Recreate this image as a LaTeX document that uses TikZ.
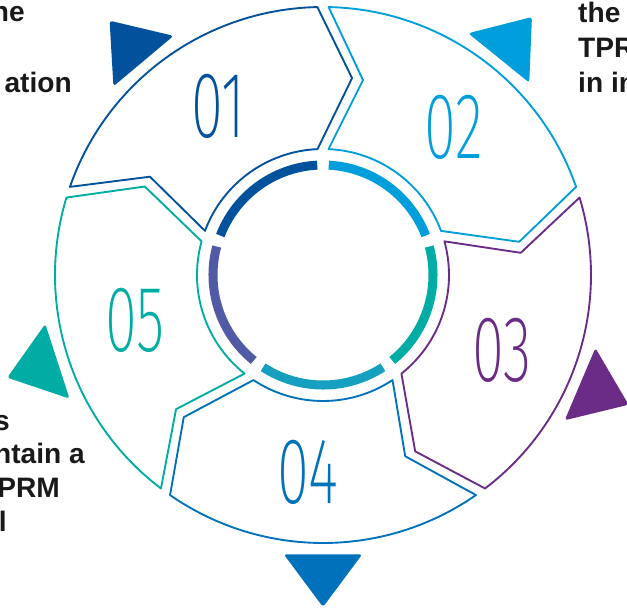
\documentclass[tikz,border=0pt]{standalone}
\usepackage{fontspec}
\setmainfont{Liberation Sans}
\newfontfamily\numfont{Fira Sans ExtraLight}[FakeStretch=0.62]
\definecolor{segA}{RGB}{2,81,156}
\definecolor{segB}{RGB}{0,158,219}
\definecolor{segC}{RGB}{107,44,135}
\definecolor{segD}{RGB}{0,113,187}
\definecolor{segE}{RGB}{0,172,163}
\definecolor{bandD}{RGB}{22,160,192}
\definecolor{bandE}{RGB}{80,90,165}

\begin{document}
\begin{tikzpicture}[
  x=0.03cm, y=0.03cm,
  seg/.style={line width=1.6pt, line join=round},
  band/.style={line width=7.7pt},
  tri/.style={rounded corners=2.5pt},
  num/.style={font=\numfont\fontsize{80}{80}\selectfont, inner sep=0pt},
  txt/.style={font=\bfseries\fontsize{24}{28}\selectfont, inner sep=0pt, text=black!90}
]
  \useasboundingbox (-323,-336) rectangle (304,275);
  \clip (-323,-336) rectangle (304,275);

  \draw[seg, segA] (160.8:268) arc[start angle=160.8, end angle=91.2, radius=268] -- (81.6:199) -- (92.5:126) arc[start angle=92.5, end angle=159.5, radius=126] -- (150.4:199) -- cycle;
  \draw[seg, segB] (88.8:268) arc[start angle=88.8, end angle=19.2, radius=268] -- (9.6:199) -- (20.5:126) arc[start angle=20.5, end angle=87.5, radius=126] -- (78.4:199) -- cycle;
  \draw[seg, segC] (16.8:268) arc[start angle=16.8, end angle=-52.8, radius=268] -- (-62.4:199) -- (-51.5:126) arc[start angle=-51.5, end angle=15.5, radius=126] -- (6.4:199) -- cycle;
  \draw[seg, segD] (-55.2:268) arc[start angle=-55.2, end angle=-124.8, radius=268] -- (-134.4:199) -- (-123.5:126) arc[start angle=-123.5, end angle=-56.5, radius=126] -- (-65.6:199) -- cycle;
  \draw[seg, segE] (-127.2:268) arc[start angle=-127.2, end angle=-196.8, radius=268] -- (-206.4:199) -- (-195.5:126) arc[start angle=-195.5, end angle=-128.5, radius=126] -- (-137.6:199) -- cycle;

  \draw[band, segA] (159:110) arc[start angle=159, end angle=93, radius=110];
  \draw[band, segB] (87:110) arc[start angle=87, end angle=21, radius=110];
  \draw[band, segE] (15:110) arc[start angle=15, end angle=-51, radius=110];
  \draw[band, bandD] (-57:110) arc[start angle=-57, end angle=-123, radius=110];
  \draw[band, bandE] (-129:110) arc[start angle=-129, end angle=-195, radius=110];

  \fill[tri, segA] (138:282) -- (130:332) -- (122:282) -- cycle;
  \fill[tri, segB] (59:282) -- (51:332) -- (43:282) -- cycle;
  \fill[tri, segC] (-15:282) -- (-23:332) -- (-31:282) -- cycle;
  \fill[tri, segD] (-82:282) -- (-90:332) -- (-98:282) -- cycle;
  \fill[tri, segE] (206:282) -- (198:332) -- (190:282) -- cycle;

  \node[num, text=segA] (n01) at (-105,169) {01};
  \node[num, text=segB] (n02) at (131,148) {02};
  \node[num, text=segC] (n03) at (179,-75) {03};
  \node[num, text=segD] (n04) at (-15,-197) {04};
  \node[num, text=segE] (n05) at (-188,-45) {05};

  \node[txt, anchor=base east] (tl1) at (-298,253) {he};
  \node[txt, anchor=base east] (tl2) at (-251,183) {ation};
  \node[txt, anchor=base west] (tr1) at (255,252) {the};
  \node[txt, anchor=base west] (tr2) at (255,218) {TPR};
  \node[txt, anchor=base west] (tr3) at (255,183) {in in};
  \node[txt, anchor=base east] (bl1) at (-313,-155) {s};
  \node[txt, anchor=base east] (bl2) at (-238,-188) {ntain a};
  \node[txt, anchor=base east] (bl3) at (-263,-222) {TPRM};
  \node[txt, anchor=base east] (bl4) at (-316,-256) {l};
\end{tikzpicture}
\end{document}
